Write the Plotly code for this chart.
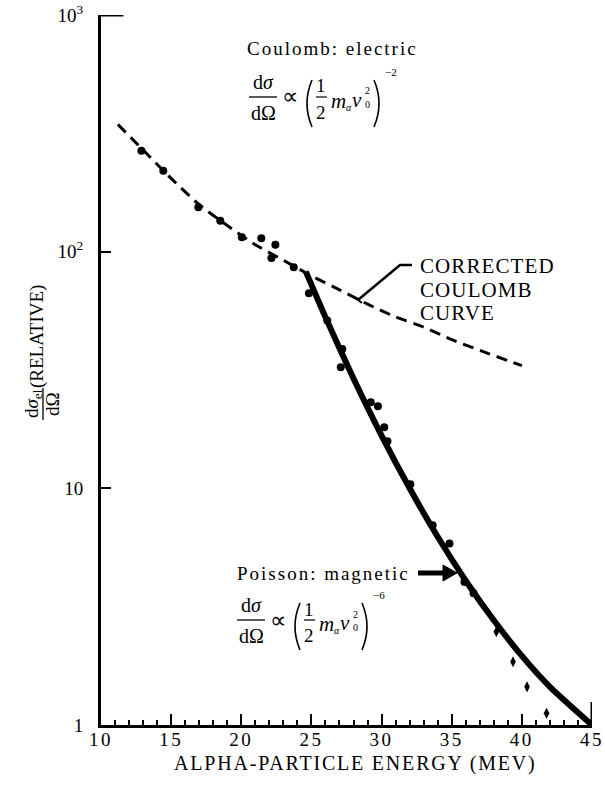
import plotly.graph_objects as go

# ---------------- data ----------------
coulomb_energy = [11.2, 13, 15, 17, 19, 21, 23, 25, 27, 29, 31, 33, 35, 37, 40]
coulomb_sigma = [345, 269, 204, 158, 129, 107, 92, 79, 69, 60, 53, 48, 42.5, 38.3, 33]

poisson_energy = [24.6, 26, 28, 30, 32, 34, 36, 38, 40, 42, 45]
poisson_sigma = [82.4, 52.9, 29.1, 16.7, 10.0, 6.24, 4.07, 2.77, 1.96, 1.45, 1.0]

meas_energy = [12.88, 14.44, 16.94, 18.50, 20.04, 21.43, 22.43, 22.15, 23.74, 24.82,
               26.13, 27.20, 27.09, 29.23, 29.74, 30.19, 30.42, 32.05, 33.64, 34.84,
               35.91, 36.56, 38.18, 39.37, 40.37, 41.76]
meas_sigma = [267, 220, 154, 135, 115, 114, 107, 94, 86, 66.8,
              51.2, 38.8, 32.5, 23.1, 22.2, 18.1, 15.8, 10.4, 6.98, 5.85,
              4.02, 3.60, 2.48, 1.85, 1.45, 1.12]
meas_symbol = ["circle"] * 22 + ["diamond-tall"] * 4

x_tick_vals = [10, 15, 20, 25, 30, 35, 40, 45]
x_tick_text = ["10", "15", "20", "25", "30", "35", "40", "45"]
x_minor_vals = list(range(10, 46))
y_tick_vals = [1, 10, 100, 1000]
y_tick_text = ["1", "10", "10<sup>2</sup>", "10<sup>3</sup>"]

# ---------------- layout geometry ----------------
WIDTH, HEIGHT = 605, 786
L, R, T, B = 101, 592, 15, 725          # plot area in screen pixels
PW, PH = R - L, B - T
FONT = "Liberation Serif"


def PX(px):
    return (px - L) / PW


def PY(py):
    return (B - py) / PH


def ls(s, sp):
    return f'<span style="letter-spacing:{sp}px">{s}</span>'


annotations = []
shapes = []


def txt(s, px, py, size=19, angle=0, xanchor="center"):
    annotations.append(dict(text=s, x=PX(px), y=PY(py), xref="paper", yref="paper",
                            xanchor=xanchor, yanchor="middle", showarrow=False,
                            textangle=angle, font=dict(family=FONT, size=size, color="black")))


def seg(x0, y0, x1, y1, w=1.5):
    shapes.append(dict(type="line", xref="paper", yref="paper",
                       x0=PX(x0), y0=PY(y0), x1=PX(x1), y1=PY(y1),
                       line=dict(color="black", width=w)))


def paren(xt, xm, ytop, ybot, w=1.6):
    ym = (ytop + ybot) / 2
    path = f"M {PX(xt)},{PY(ytop)} Q {PX(xm)},{PY(ym)} {PX(xt)},{PY(ybot)}"
    shapes.append(dict(type="path", xref="paper", yref="paper", path=path,
                       line=dict(color="black", width=w)))


def formula(dx, dy, expo):
    txt("d<i>σ</i>", 263 + dx, 82 + dy, 20)
    seg(249 + dx, 97 + dy, 277 + dx, 97 + dy, 1.3)
    txt("dΩ", 263 + dx, 113 + dy, 20)
    txt("∝", 290 + dx, 97 + dy, 23)
    paren(312 + dx, 302 + dx, 80 + dy, 127 + dy)
    txt("1", 321 + dx, 86 + dy, 19)
    seg(316 + dx, 97 + dy, 327 + dx, 97 + dy, 1.2)
    txt("2", 321 + dx, 112 + dy, 19)
    txt("<i>m</i>", 338 + dx, 101 + dy, 21)
    txt("<i>α</i>", 349 + dx, 107 + dy, 10)
    txt("<i>v</i>", 357 + dx, 100 + dy, 21)
    txt("2", 367 + dx, 91 + dy, 10)
    txt("0", 367 + dx, 104 + dy, 10)
    paren(374 + dx, 384 + dx, 80 + dy, 127 + dy)
    txt(expo, 391 + dx, 72 + dy, 11)


# Coulomb annotation
txt(ls("Coulomb: electric", 2.0), 332, 48, 19)
formula(0, 0, "−2")

# Poisson annotation
txt(ls("Poisson: magnetic", 2.0), 323, 573, 19)
formula(-12, 523, "−6")
# arrow
seg(418, 573, 446, 573, 5)
shapes.append(dict(type="path", xref="paper", yref="paper",
                   path=f"M {PX(443)},{PY(565)} L {PX(457)},{PY(573)} L {PX(443)},{PY(581)} Z",
                   fillcolor="black", line=dict(color="black", width=1)))

# Corrected Coulomb curve label + leader
txt(ls("CORRECTED", 1.1), 418, 266, 21, xanchor="left")
txt(ls("COULOMB", 1.1), 418, 290, 21, xanchor="left")
txt(ls("CURVE", 1.1), 418, 313, 21, xanchor="left")
shapes.append(dict(type="path", xref="paper", yref="paper",
                   path=f"M {PX(412)},{PY(265)} L {PX(400)},{PY(265)} L {PX(358)},{PY(300)}",
                   line=dict(color="black", width=2.5)))
seg(353, 296, 362, 303, 2)

# Axis titles
txt(ls("ALPHA-PARTICLE ENERGY (MEV)", 1.8), 355, 763, 20)
txt("(RELATIVE)", 37, 337, 19, angle=-90)
txt("d<i>σ</i><sub>el</sub>", 33, 404, 19, angle=-90)
seg(43, 388, 43, 420, 1.3)
txt("dΩ", 53, 404, 19, angle=-90)

# axis decorations: long top tick and right-end vertical tick
shapes.append(dict(type="line", xref="x", yref="y", x0=10, x1=11.6, y0=1000, y1=1000,
                   line=dict(color="black", width=3)))
shapes.append(dict(type="line", xref="x", yref="y", x0=45, x1=45, y0=1, y1=1.25,
                   line=dict(color="black", width=3)))

fig = go.Figure()
fig.add_trace(go.Scatter(x=coulomb_energy, y=coulomb_sigma, mode="lines",
                         line=dict(color="black", width=3, dash="11px,7px", shape="spline", smoothing=0.6),
                         hoverinfo="skip"))
fig.add_trace(go.Scatter(x=poisson_energy, y=poisson_sigma, mode="lines",
                         line=dict(color="black", width=6, shape="spline", smoothing=0.6),
                         hoverinfo="skip"))
fig.add_trace(go.Scatter(x=meas_energy, y=meas_sigma, mode="markers",
                         marker=dict(color="black", size=8, symbol=meas_symbol),
                         cliponaxis=False))

fig.update_layout(
    width=WIDTH, height=HEIGHT,
    margin=dict(l=L, r=WIDTH - R, t=T, b=HEIGHT - B),
    paper_bgcolor="white", plot_bgcolor="white",
    showlegend=False,
    font=dict(family=FONT, color="black", size=18),
    annotations=annotations, shapes=shapes,
    xaxis=dict(range=[10, 45], showline=True, linewidth=3, linecolor="black",
               showgrid=False, zeroline=False, automargin=False,
               ticks="inside", ticklen=11, tickwidth=2, tickcolor="black",
               tickmode="array", tickvals=x_tick_vals,
               ticktext=[ls(t, 2.5) for t in x_tick_text],
               ticklabelstandoff=-5, ticklabeloverflow="allow",
               tickfont=dict(family=FONT, size=19, color="black"),
               minor=dict(tickmode="array", tickvals=x_minor_vals, ticks="inside",
                          ticklen=5, tickwidth=2, tickcolor="black", showgrid=False)),
    yaxis=dict(type="log", range=[0, 3], showline=True, linewidth=3, linecolor="black",
               showgrid=False, zeroline=False, automargin=False,
               ticks="inside", ticklen=10, tickwidth=2, tickcolor="black",
               tickmode="array", tickvals=y_tick_vals, ticktext=y_tick_text,
               ticklabelstandoff=11, ticklabeloverflow="allow",
               tickfont=dict(family=FONT, size=19, color="black")),
)

# remove the default 8px page margin so the figure fills the window exactly
fig.write_html("out.html",
               config={"displayModeBar": False},
               post_script="document.body.style.margin='0px';document.body.style.overflow='hidden';")
